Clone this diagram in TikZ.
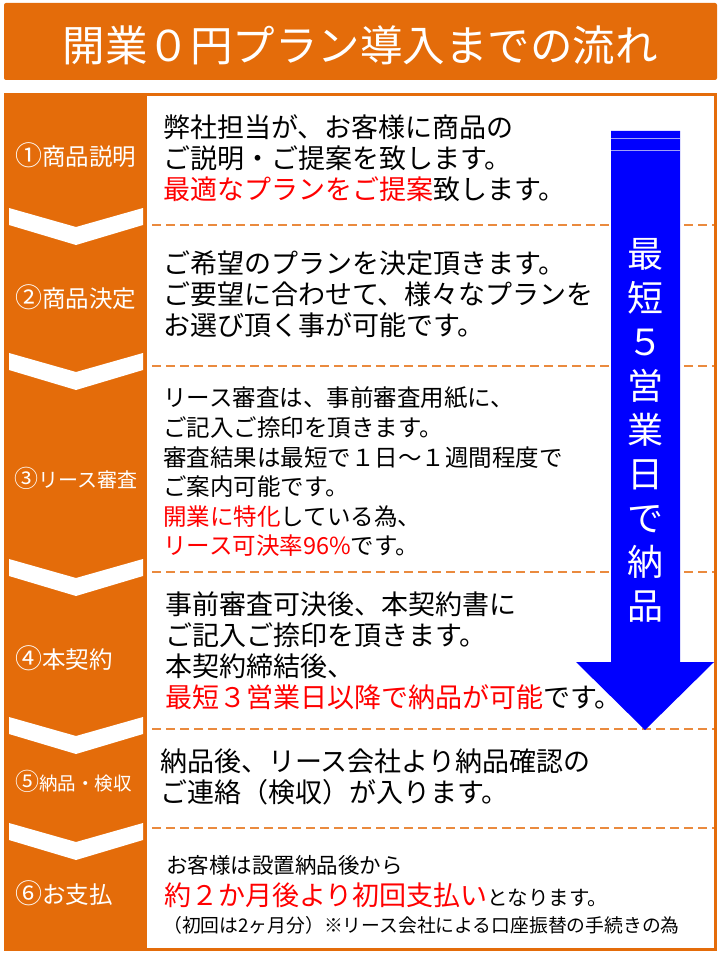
\documentclass[tikz,border=0pt]{standalone}
\usepackage{fontspec}
\setmainfont{Noto Sans CJK JP}
\usetikzlibrary{positioning}
\definecolor{flowOrange}{HTML}{E46C0A}
\definecolor{dashOrange}{HTML}{EA8A3E}
\definecolor{hiRed}{HTML}{FF0000}
\definecolor{dayBlue}{HTML}{0000FF}
\definecolor{stripeBlue}{HTML}{A0A0F8}
\newcommand{\hl}[1]{\textcolor{hiRed}{#1}}
\newcommand{\cnum}[2][27]{{\fontsize{#1}{#1}\selectfont #2}}

\begin{document}
\begin{tikzpicture}[
    x=1pt, y=-1pt,
    title/.style={text=white, inner sep=0pt, font=\fontsize{42.5}{42.5}\selectfont},
    steplabel/.style={anchor=west, inner sep=0pt, text=white, font=\fontsize{23.5}{24}\selectfont},
    body/.style={anchor=west, inner sep=0pt, align=left, font=\fontsize{27}{31}\selectfont},
    sep/.style={draw=dashOrange, line width=2pt, dash pattern=on 9pt off 5pt},
    dayarrow/.style={fill=dayBlue},
    daytext/.style={text=white, inner sep=0pt, align=center, font=\fontsize{36}{44}\selectfont}
]
    \useasboundingbox (0,0) rectangle (720,960);

    % header
    \fill[flowOrange, rounded corners=2pt] (4,3) rectangle (717,80);
    \node[title] (head) at (360,45) {開業０円プラン導入までの流れ};

    % frame, left column and white panel
    \fill[flowOrange] (4,93) rectangle (717,951);
    \fill[white] (147,96) rectangle (714,948);

    % chevrons between the steps
    \foreach \t in {208,353,559,717,823}
        \fill[white] (9,\t) -- (76,\t+19) -- (143,\t) -- (143,\t+17)
            -- (76,\t+37) -- (9,\t+17) -- cycle;

    % separators
    \foreach \s in {225,366,572,729,828}
        \draw[sep] (152,\s) -- (714,\s);

    % step labels
    \node[steplabel] (lab1) at (15,155) {\cnum{①}商品説明};
    \node[steplabel] (lab2) at (15,297) {\cnum{②}商品決定};
    \node[steplabel, font=\fontsize{20}{20}\selectfont] (lab3) at (14,478) {\cnum[24]{③}リース審査};
    \node[steplabel, font=\fontsize{18.5}{19}\selectfont] (lab5) at (15,781) {\cnum[24]{⑤}納品・検収};
    \node[steplabel] (lab4) at (15,658) {\cnum{④}本契約};
    \node[steplabel] (lab6) at (15,893) {\cnum{⑥}お支払};

    % step texts
    \node[body] (txt1) at (163,158) {弊社担当が、お客様に商品の\\ご説明・ご提案を致します。\\\hl{最適なプランをご提案}致します。};
    \node[body] (txt2) at (163,294) {ご希望のプランを決定頂きます。\\ご要望に合わせて、様々なプランを\\お選び頂く事が可能です。};
    \node[body, font=\fontsize{23.5}{29.6}\selectfont] (txt3) at (163,472)
        {リース審査は、事前審査用紙に、\\ご記入ご捺印を頂きます。\\審査結果は最短で１日～１週間程度で\\ご案内可能です。\\\hl{開業に特化}している為、\\\hl{リース可決率96\%}です。};
    \node[body] (txt4) at (165,651) {事前審査可決後、本契約書に\\ご記入ご捺印を頂きます。\\本契約締結後、\\\hl{最短３営業日以降で納品が可能}です。};
    \node[body] (txt5) at (160,777) {納品後、リース会社より納品確認の\\ご連絡（検収）が入ります。};
    \node[body, font=\fontsize{21.5}{22}\selectfont] (txt6a) at (166,865) {お客様は設置納品後から};
    \node[body] (txt6b) at (164,895) {\hl{約２か月後より初回支払い}{\fontsize{20.5}{21}\selectfont となります。}};
    \node[body, font=\fontsize{18.8}{19}\selectfont] (txt6c) at (163,925) {（初回は2ヶ月分）※リース会社による口座振替の手続きの為};

    % lead-time arrow
    \fill[dayarrow] (611,131) -- (680,131) -- (680,662) -- (714,662)
        -- (645,730) -- (576,662) -- (611,662) -- cycle;
    \draw[stripeBlue, line width=1pt] (611,139) -- (680,139);
    \draw[stripeBlue, line width=1pt] (611,151) -- (680,151);
    \node[daytext] (days) at (645.5,430) {最\\短\\５\\営\\業\\日\\で\\納\\品};
\end{tikzpicture}
\end{document}
